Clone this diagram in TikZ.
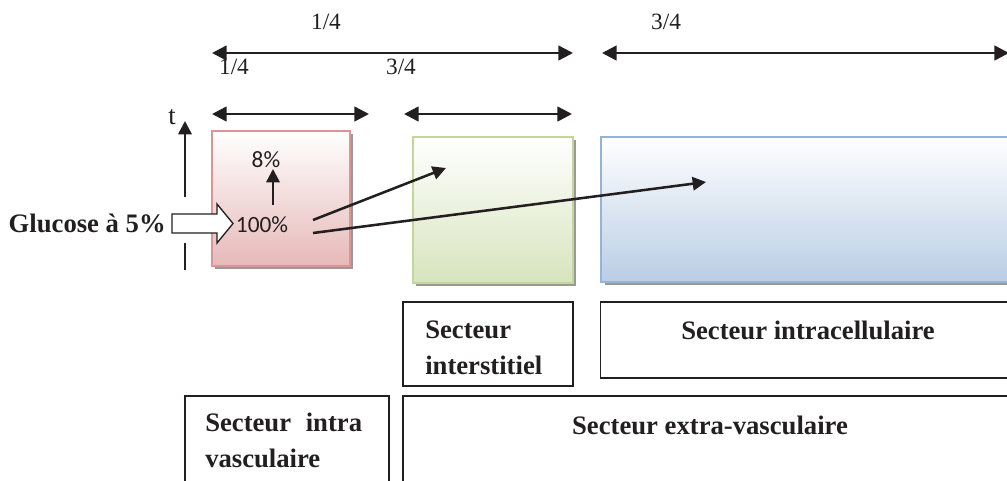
\documentclass[tikz,border=0pt]{standalone}
\usepackage{fontspec}
\setmainfont{Liberation Serif}
\newfontfamily\calibrifont{Carlito}
\usetikzlibrary{arrows.meta,shadows}
\definecolor{ink}{HTML}{231F20}
\definecolor{pinkb}{HTML}{D99694}
\definecolor{pinkf}{HTML}{E6B9B8}
\definecolor{greenb}{HTML}{C3D69B}
\definecolor{greenf}{HTML}{D7E4BD}
\definecolor{blueb}{HTML}{95B3D7}
\definecolor{bluef}{HTML}{B9CDE5}
\tikzset{
  dimarrow/.style={line width=1.9pt, draw=ink, {Triangle[length=11pt,width=11pt]}-{Triangle[length=11pt,width=11pt]}},
  flow/.style={line width=1.9pt, draw=ink, -{Triangle[length=10pt,width=10pt]}},
  frac/.style={font=\fontsize{17.5}{20}\selectfont, text=ink, inner sep=0pt},
  pct/.style={font=\calibrifont\fontsize{17.5}{20}\selectfont, text=ink, inner sep=0pt},
  lbl/.style={font=\bfseries\fontsize{20}{27}\selectfont, text=ink, inner sep=0pt},
  sector/.style={draw=#1, line width=1.5pt, drop shadow={shadow xshift=2.5pt, shadow yshift=-2.5pt, fill=black!40, opacity=1}, inner sep=0pt},
  tbox/.style={draw=ink, line width=1pt, inner sep=0pt},
}
\begin{document}
\begin{tikzpicture}[x=0.75pt,y=-0.75pt]
\useasboundingbox (0,0) rectangle (1007,480);
% shaded sector boxes
\node[sector=pinkb, top color=white, bottom color=pinkf, minimum width=103.5pt, minimum height=101.25pt] (pink) at (280.5,198.5) {};
\node[sector=greenb, top color=white, bottom color=greenf, minimum width=120pt, minimum height=109.5pt] (green) at (493,210) {};
\node[sector=blueb, top color=white, bottom color=bluef, minimum width=310pt, minimum height=108.75pt] (blue) at (808,209.5) {};
% dimension arrows
\coordinate (a1) at (212,53); \coordinate (a2) at (573,53);
\coordinate (b1) at (602,53); \coordinate (b2) at (1009,53);
\coordinate (c1) at (212,114); \coordinate (c2) at (369,114);
\coordinate (d1) at (404,114); \coordinate (d2) at (572,114);
\draw[dimarrow] (a1) -- (a2);
\draw[dimarrow] (b1) -- (b2);
\draw[dimarrow] (c1) -- (c2);
\draw[dimarrow] (d1) -- (d2);
\node[frac] (f1) at (326,22) {1/4};
\node[frac] (f2) at (666,22) {3/4};
\node[frac] (f3) at (234,67) {1/4};
\node[frac] (f4) at (401,67) {3/4};
% time axis
\node[font=\fontsize{20}{22}\selectfont, text=ink, inner sep=0pt] (t) at (172,117) {t};
\coordinate (t0) at (185,197); \coordinate (t1) at (185,121);
\coordinate (t2) at (185,243); \coordinate (t3) at (185,270);
\draw[flow] (t0) -- (t1);
\draw[line width=1.9pt, draw=ink] (t2) -- (t3);
% glucose input
\node[lbl, anchor=east] (glu) at (166,223) {Glucose à 5\%};
\draw[draw=ink, fill=white, line width=1pt] (172,214) -- (217,214) -- (217,204) -- (233,223.5) -- (217,243) -- (217,233) -- (172,233) -- cycle;
\node[pct] (p100) at (262,225) {100\%};
\node[pct] (p8) at (266,160) {8\%};
\coordinate (u0) at (273,205); \coordinate (u1) at (273,169);
\draw[flow] (u0) -- (u1);
\coordinate (s1) at (313,220); \coordinate (e1) at (446,168);
\coordinate (s2) at (313,233); \coordinate (e2) at (706,182);
\draw[flow] (s1) -- (e1);
\draw[flow] (s2) -- (e2);
% label boxes
\node[tbox, minimum width=127.5pt, minimum height=63pt] (inter) at (488,344) {};
\node[lbl, anchor=west] (inter1) at (425,330) {Secteur};
\node[lbl, anchor=west] (inter2) at (425,365) {interstitiel};
\node[tbox, minimum width=308pt, minimum height=57pt] (intrac) at (806,340) {};
\node[lbl] (intract) at (808,330) {Secteur intracellulaire};
\node[tbox, minimum width=153pt, minimum height=75pt] (vasc) at (287,446) {};
\node[lbl, anchor=west] (vasc1) at (205,422) {Secteur\hspace{0.55em}intra};
\node[lbl, anchor=west] (vasc2) at (205,458) {vasculaire};
\node[tbox, minimum width=456pt, minimum height=75pt] (extra) at (707,446) {};
\node[lbl] (extrat) at (710,425) {Secteur extra-vasculaire};
\end{tikzpicture}
\end{document}
